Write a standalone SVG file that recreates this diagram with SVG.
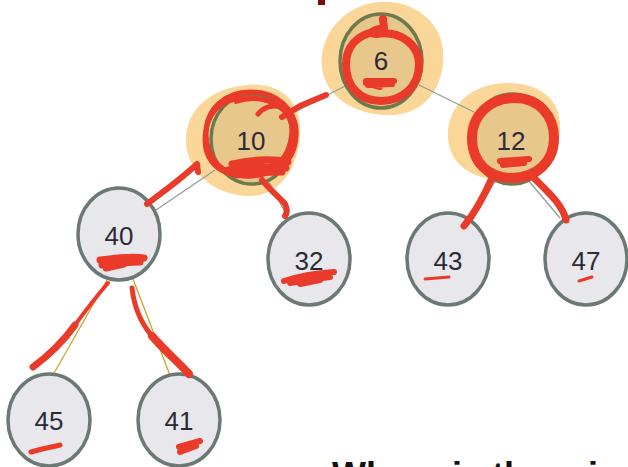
<svg xmlns="http://www.w3.org/2000/svg" width="628" height="467" viewBox="0 0 628 467">
  <style>
    .node { fill: #e7e7ec; stroke: #6b7873; stroke-width: 3.5; }
    .hot { fill: #e8c78c; stroke: #6e7a4e; stroke-width: 3.5; }
    .glow { fill: #fbd699; }
    .lbl { font-family: "Liberation Sans", Arial, sans-serif; font-size: 26px; fill: #2b2b36; text-anchor: middle; }
    .edge { stroke: #8e9c9a; stroke-width: 1.2; fill: none; }
    .edge2 { stroke: #c9a01c; stroke-width: 1.2; fill: none; }
    .ink { stroke: #ea3a29; fill: none; stroke-linecap: round; stroke-linejoin: round; }
  </style>

  <!-- partial title glyph at the top edge -->
  <rect x="318" y="0" width="7" height="5" fill="#7a0c0c"/>

  <!-- highlight blobs behind the visited nodes -->
  <g id="highlights">
    <path class="glow" d="M380,2 C412,0 440,20 443,50 C446,80 430,112 395,115 C360,117 326,100 322,68 C318,35 345,4 380,2 Z"/>
    <path class="glow" d="M240,86 C268,80 298,92 300,125 C302,158 285,196 250,196 C215,196 186,172 186,140 C186,110 210,90 240,86 Z"/>
    <path class="glow" d="M505,83 C540,82 562,100 560,130 C558,162 540,178 510,180 C478,182 450,168 448,138 C446,106 472,84 505,83 Z"/>
  </g>

  <!-- connectors -->
  <g id="connectors">
    <line class="edge" x1="345" y1="86" x2="285" y2="117"/>
    <line class="edge" x1="419" y1="85" x2="474" y2="112"/>
    <line class="edge" x1="215" y1="170" x2="156" y2="210"/>
    <line class="edge" x1="268" y1="180" x2="288" y2="218"/>
    <line class="edge" x1="496" y1="180" x2="470" y2="222"/>
    <line class="edge" x1="528" y1="180" x2="560" y2="218"/>
    <line class="edge2" x1="107" y1="280" x2="53" y2="375"/>
    <line class="edge2" x1="133" y1="279" x2="171" y2="378"/>
  </g>

  <!-- nodes -->
  <g id="n6"><ellipse class="hot" cx="381" cy="61" rx="41" ry="47"/><text class="lbl" x="381" y="70">6</text></g>
  <g id="n10"><ellipse class="hot" cx="252" cy="139" rx="41" ry="45"/><text class="lbl" x="251" y="150">10</text></g>
  <g id="n12"><ellipse class="hot" cx="512" cy="139" rx="41" ry="45"/><text class="lbl" x="511" y="150">12</text></g>
  <g id="n40"><ellipse class="node" cx="119" cy="234" rx="41" ry="46"/><text class="lbl" x="119" y="245">40</text></g>
  <g id="n32"><ellipse class="node" cx="309" cy="259" rx="41" ry="46"/><text class="lbl" x="309" y="270">32</text></g>
  <g id="n43"><ellipse class="node" cx="448" cy="259" rx="41" ry="46"/><text class="lbl" x="448" y="270">43</text></g>
  <g id="n47"><ellipse class="node" cx="586" cy="259" rx="41" ry="46"/><text class="lbl" x="586" y="270">47</text></g>
  <g id="n45"><ellipse class="node" cx="49" cy="420" rx="41" ry="46"/><text class="lbl" x="49" y="430">45</text></g>
  <g id="n41"><ellipse class="node" cx="179" cy="420" rx="41" ry="46"/><text class="lbl" x="179" y="430">41</text></g>

  <!-- red pen marks -->
  <g id="ink">
    <!-- circle around 6 -->
    <path class="ink" stroke-width="8" d="M383,19 L384,28 C372,30 368,34 376,34 C402,30 419,46 419,64 C419,88 401,101 381,101 C360,101 346,87 346,64 C346,46 358,35 374,32"/>
    <path class="ink" stroke-width="6" d="M366,81 L394,81 M368,85 L392,84 M366,83 L380,87"/>
    <!-- stroke from 10 toward 6 -->
    <path class="ink" stroke-width="6" d="M282,117 L300,106 L326,95"/>
    <!-- scribbled loops around 10 -->
    <path class="ink" stroke-width="5" d="M258,114 C270,100 292,104 292,128 C292,158 272,176 248,176 C222,176 206,158 206,134 C206,108 226,92 250,92 C276,92 296,108 294,132"/>
    <path class="ink" stroke-width="5" d="M284,110 C270,96 240,94 222,104 C204,116 200,146 212,162 C226,180 262,180 282,166 C298,154 300,126 290,112"/>
    <path class="ink" stroke-width="4" d="M236,102 C252,96 276,98 288,116 C296,132 292,158 276,170"/>
    <path class="ink" stroke-width="7" d="M232,164 C250,160 272,158 288,162 M228,170 C250,166 268,166 286,168 M236,175 C254,172 270,172 282,172"/>
    <!-- stroke from 40 up to 10 -->
    <path class="ink" stroke-width="6" d="M147,204 C160,194 180,180 197,164 L198,172"/>
    <!-- stroke from 10 down to 32 -->
    <path class="ink" stroke-width="6" d="M262,180 C270,190 280,198 285,204 C287,208 288,212 285,216"/>
    <!-- circle around 12 -->
    <path class="ink" stroke-width="10" d="M515,98 C538,98 554,115 554,138 C554,162 536,178 512,178 C488,178 472,162 472,138 C472,115 490,98 515,98 Z"/>
    <path class="ink" stroke-width="6" d="M500,161 L529,159 M503,165 L524,163"/>
    <!-- strokes from 12 down to 43 and 47 -->
    <path class="ink" stroke-width="7" d="M492,178 C484,196 474,214 464,226"/>
    <path class="ink" stroke-width="7" d="M532,176 C548,192 562,204 566,220"/>
    <!-- marks on the lower nodes -->
    <path class="ink" stroke-width="7" d="M100,260 C116,258 130,256 144,258 M102,265 C118,263 130,262 140,262 M106,268 L124,264"/>
    <path class="ink" stroke-width="6" d="M284,281 C300,276 318,273 334,272 M290,283 C306,280 322,278 330,277 M300,284 L320,280"/>
    <path class="ink" stroke-width="3" d="M425,279 L449,277"/>
    <path class="ink" stroke-width="3" d="M579,281 L592,277"/>
    <path class="ink" stroke-width="5" d="M31,452 C42,449 52,447 60,445"/>
    <path class="ink" stroke-width="6" d="M179,447 L200,441 M180,452 L196,446"/>
    <!-- strokes from 40 down to 45 and 41 -->
    <path class="ink" stroke-width="4" d="M108,283 C95,298 86,310 75,325"/>
    <path class="ink" stroke-width="7" d="M75,325 C62,343 48,356 33,367"/>
    <path class="ink" stroke-width="5" d="M132,288 C134,306 140,322 152,336"/>
    <path class="ink" stroke-width="8" d="M152,336 C166,352 180,364 189,374"/>
  </g>

  <!-- partial caption at the bottom edge -->
  <text x="332" y="488" font-family="Liberation Sans, Arial, sans-serif" font-size="36" font-weight="bold" fill="#111">Where is the mi</text>
</svg>
